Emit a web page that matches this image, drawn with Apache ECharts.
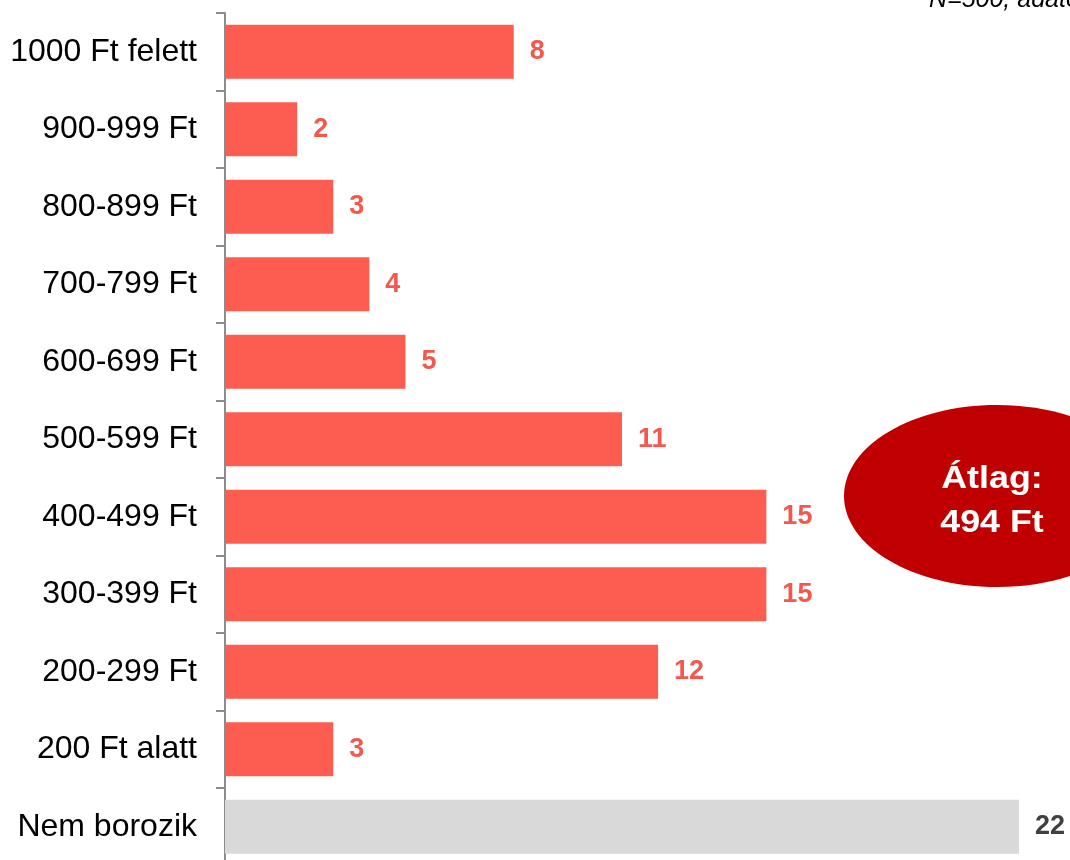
<!DOCTYPE html>
<html>
<head>
<meta charset="utf-8">
<script src="https://cdn.jsdelivr.net/npm/echarts@6/dist/echarts.min.js"></script>
<style>
  html, body { margin: 0; padding: 0; background: #ffffff; }
  #chart { width: 1070px; height: 860px; }
</style>
</head>
<body>
<div id="chart"></div>
<script>
// Price bands, listed top to bottom
const categories = [
  '1000 Ft felett', '900-999 Ft', '800-899 Ft', '700-799 Ft', '600-699 Ft',
  '500-599 Ft', '400-499 Ft', '300-399 Ft', '200-299 Ft', '200 Ft alatt', 'Nem borozik'
];
// Share of respondents (%)
const values = [8, 2, 3, 4, 5, 11, 15, 15, 12, 3, 22];
// Category drawn in neutral grey
const neutralCategory = 'Nem borozik';
const noteText = 'N=500, adatok %-ban';
const averageText = 'Átlag:\n494 Ft';

const RED = '#FD5C50';
const GREY = '#D9D9D9';
const FONT = '"Liberation Sans", Arial, sans-serif';

const seriesData = values.map((v, i) => {
  const neutral = categories[i] === neutralCategory;
  return {
    value: v,
    itemStyle: { color: neutral ? GREY : RED },
    label: { color: neutral ? '#404040' : '#F5574C' }
  };
});

const chart = echarts.init(document.getElementById('chart'), null, { renderer: 'canvas' });

chart.setOption({
  animation: false,
  backgroundColor: '#ffffff',
  grid: {
    left: 225, top: 13, width: 794, height: 852.5,
    containLabel: false,
    outerBoundsMode: 'none'
  },
  xAxis: {
    type: 'value', min: 0, max: 22, show: false
  },
  yAxis: {
    type: 'category',
    inverse: true,
    data: categories,
    axisLine: { show: true, lineStyle: { color: '#8C8C8C', width: 2 } },
    axisTick: { show: true, length: 9, lineStyle: { color: '#8C8C8C', width: 2 } },
    axisLabel: {
      margin: 28,
      color: '#000000',
      fontFamily: FONT,
      fontSize: 32
    }
  },
  series: [{
    type: 'bar',
    data: seriesData,
    barWidth: 54,
    label: {
      show: true,
      position: 'right',
      distance: 16,
      fontFamily: FONT,
      fontSize: 27,
      fontWeight: 'bold'
    }
  }],
  graphic: [
    {
      type: 'text',
      x: 929,
      y: -12,
      style: {
        text: noteText,
        fill: '#000000',
        fontFamily: FONT,
        fontSize: 25,
        fontStyle: 'italic'
      }
    },
    {
      type: 'ellipse',
      shape: { cx: 997, cy: 496, rx: 153, ry: 91 },
      style: { fill: '#C00000' },
      z: 10
    },
    {
      type: 'text',
      x: 992,
      y: 501,
      scaleX: 1.12,
      z: 11,
      style: {
        text: averageText,
        fill: '#ffffff',
        fontFamily: FONT,
        fontSize: 32,
        fontWeight: 'bold',
        lineHeight: 44,
        align: 'center',
        verticalAlign: 'middle'
      }
    }
  ]
});
</script>
</body>
</html>
